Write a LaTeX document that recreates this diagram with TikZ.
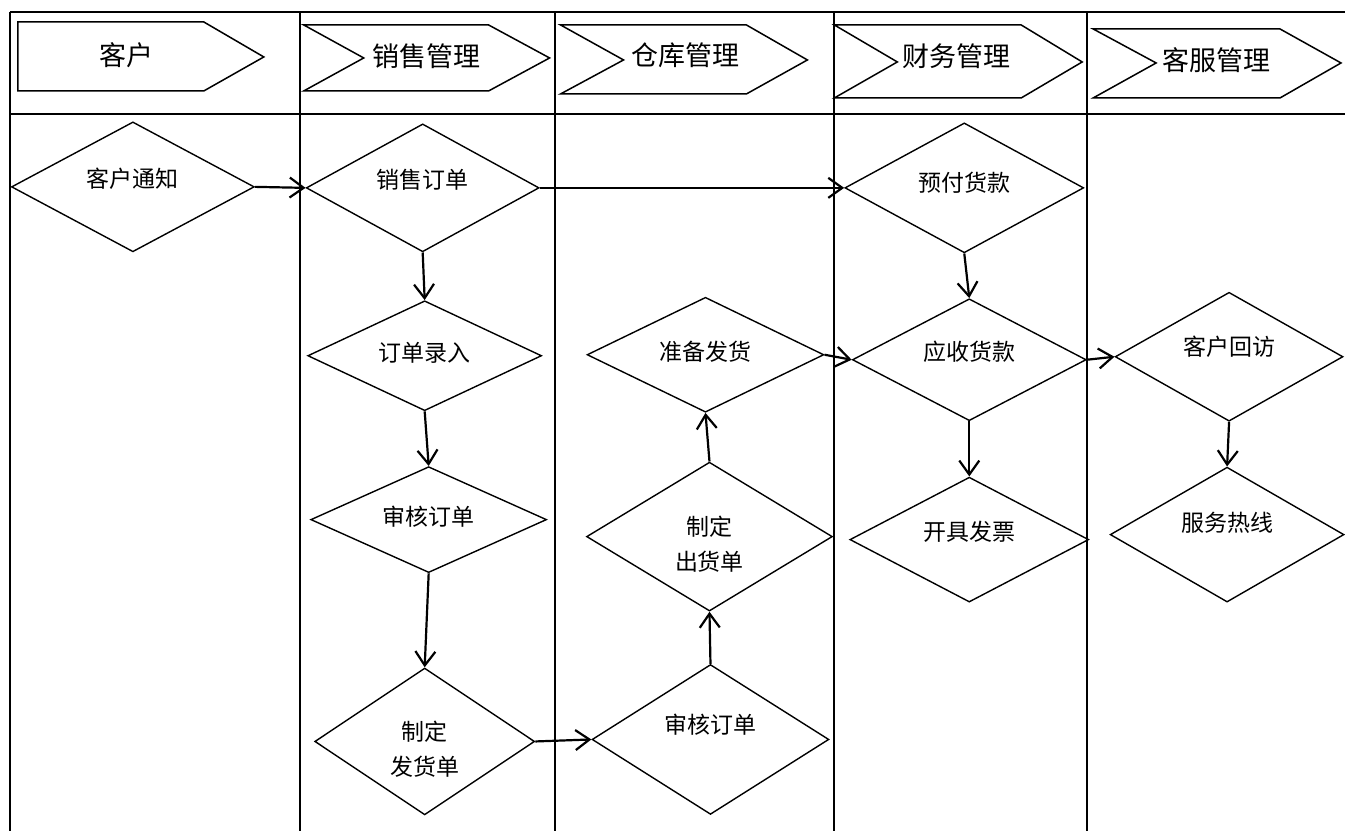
\documentclass[tikz,border=0pt]{standalone}
\usepackage{fontspec}
\usepackage{tikz}
\usetikzlibrary{arrows.meta,shapes.geometric}
\newfontfamily\cjk{Noto Sans CJK SC}
\newcommand{\headfont}{\cjk\fontsize{27}{32}\selectfont}
\newcommand{\bodyfont}{\cjk\fontsize{23}{35}\selectfont}
\tikzset{%
	lane/.style     = {line width=2pt},
	lanehead/.style = {draw, line width=1.5pt, line join=miter},
	headtext/.style = {font=\headfont, inner sep=0pt},
	flow/.style     = {draw, diamond, aspect=2, inner sep=0pt, line width=1.4pt, font=\bodyfont, align=center},
	lift/.style     = {text height=18pt, text depth=#1},
	lift/.default   = 17pt,
	twoline/.style  = {text height=70pt, text depth=1.6pt},
	arrow/.style    = {line width=2.2pt, -{Straight Barb[length=14pt,width=20pt]}},
}

\begin{document}
\begin{tikzpicture}[x=1pt,y=-1pt]
	\fill[white] (0,0) rectangle (1346,832);  % page
	% swimlane table
	\draw[lane] (10,12) -- (1346,12) (10,114) -- (1346,114);
	\draw[lane] (10,12) -- (10,832) (300,12) -- (300,832) (555,12) -- (555,832) (835,12) -- (835,832) (1088,12) -- (1088,832);
	% lane headers
	\draw[lanehead] (18,22) -- (204,22) -- (264,57) -- (204,91) -- (18,91) -- cycle;
	\draw[lanehead] (304,25) -- (489,25) -- (550,58) -- (489,91) -- (304,91) -- (364,58) -- cycle;
	\draw[lanehead] (561,25) -- (747,25) -- (808,60) -- (747,94) -- (561,94) -- (624,60) -- cycle;
	\draw[lanehead] (835,25) -- (1022,25) -- (1083,62) -- (1022,98) -- (835,98) -- (898,62) -- cycle;
	\draw[lanehead] (1094,29) -- (1281,29) -- (1342,63) -- (1281,98) -- (1094,98) -- (1157,63) -- cycle;
	\node[headtext] (hcustomer) at (127,55) {客户};
	\node[headtext] (hsales) at (427,56) {销售管理};
	\node[headtext] (hstore) at (686,55) {仓库管理};
	\node[headtext] (hfinance) at (957,56) {财务管理};
	\node[headtext] (hservice) at (1217,60) {客服管理};
	% steps
	\node[flow, lift, minimum width=243pt, minimum height=130pt] (ctnotify) at (133,187) {客户通知};
	\node[flow, lift, minimum width=233pt, minimum height=128pt] (salesorder) at (423,188) {销售订单};
	\node[flow, lift=7pt, minimum width=234pt, minimum height=110pt] (orderentry) at (425,356) {订单录入};
	\node[flow, lift=6pt, minimum width=236pt, minimum height=106pt] (salesreview) at (429,520) {审核订单};
	\node[flow, twoline, minimum width=220pt, minimum height=147pt] (delivnote) at (425,742) {制定\\发货单};
	\node[flow, lift=29pt, minimum width=237pt, minimum height=150pt] (whreview) at (711,740) {审核订单};
	\node[flow, twoline, minimum width=246pt, minimum height=149pt] (shipnote) at (710,537) {制定\\出货单};
	\node[flow, lift=6pt, minimum width=237pt, minimum height=115pt] (prepship) at (706,355) {准备发货};
	\node[flow, lift=11pt, minimum width=239pt, minimum height=130pt] (prepay) at (965,188) {预付货款};
	\node[flow, lift, minimum width=234pt, minimum height=122pt] (receivable) at (970,360) {应收货款};
	\node[flow, lift=20pt, minimum width=228pt, minimum height=129pt] (revisit) at (1230,357) {客户回访};
	\node[flow, lift, minimum width=239pt, minimum height=125pt] (invoice) at (970,540) {开具发票};
	\node[flow, lift=25pt, minimum width=234pt, minimum height=135pt] (hotline) at (1228,535) {服务热线};
	% connectors
	\draw[arrow] (ctnotify.east) -- (salesorder.west);
	\draw[arrow] (salesorder.east) -- (prepay.west);
	\draw[arrow] (salesorder.south) -- (orderentry.north);
	\draw[arrow] (orderentry.south) -- (salesreview.north);
	\draw[arrow] (salesreview.south) -- (delivnote.north);
	\draw[arrow] (delivnote.east) -- (whreview.west);
	\draw[arrow] (whreview.north) -- (shipnote.south);
	\draw[arrow] (shipnote.north) -- (prepship.south);
	\draw[arrow] (prepship.east) -- (receivable.west);
	\draw[arrow] (prepay.south) -- (receivable.north);
	\draw[arrow] (receivable.east) -- (revisit.west);
	\draw[arrow] (receivable.south) -- (invoice.north);
	\draw[arrow] (revisit.south) -- (hotline.north);
\end{tikzpicture}
\end{document}
